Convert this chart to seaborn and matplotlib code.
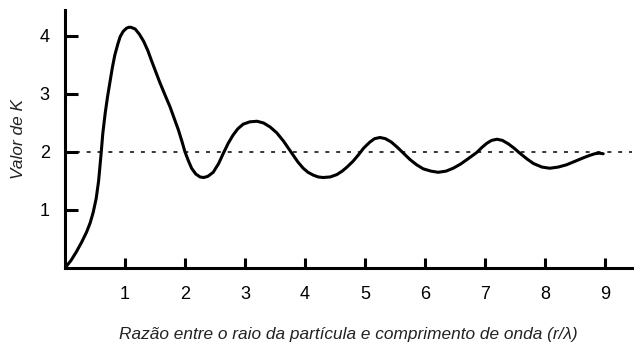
import matplotlib
matplotlib.use("Agg")
import matplotlib.pyplot as plt
import numpy as np
import pandas as pd
import seaborn as sns

# Ratio r/lambda (x) and K value (y)
ratio = [0.0, 0.1, 0.19, 0.28, 0.36, 0.42, 0.47, 0.52, 0.56, 0.6, 0.63, 0.67,
         0.71, 0.75, 0.79, 0.83, 0.88, 0.92, 0.97, 1.02, 1.06, 1.1, 1.17, 1.24,
         1.31, 1.38, 1.44, 1.51, 1.58, 1.66, 1.75, 1.82, 1.89, 1.95, 2.0, 2.06,
         2.11, 2.18, 2.25, 2.31, 2.38, 2.47, 2.56, 2.64, 2.72, 2.8, 2.88, 2.97,
         3.08, 3.2, 3.31, 3.42, 3.53, 3.64, 3.72, 3.8, 3.88, 3.97, 4.05, 4.14,
         4.22, 4.3, 4.42, 4.53, 4.62, 4.7, 4.8, 4.89, 4.98, 5.08, 5.16, 5.25,
         5.34, 5.44, 5.54, 5.64, 5.75, 5.86, 5.97, 6.1, 6.22, 6.35, 6.47, 6.59,
         6.7, 6.78, 6.86, 6.95, 7.03, 7.11, 7.2, 7.29, 7.39, 7.48, 7.58, 7.7,
         7.81, 7.95, 8.08, 8.22, 8.36, 8.5, 8.64, 8.74, 8.83, 8.9, 8.97]
k_value = [0.0, 0.13, 0.28, 0.45, 0.62, 0.78, 0.96, 1.2, 1.5, 1.95, 2.32, 2.67,
           2.96, 3.21, 3.46, 3.67, 3.86, 3.99, 4.08, 4.13, 4.15, 4.15, 4.12, 4.03,
           3.91, 3.75, 3.58, 3.39, 3.2, 3.0, 2.78, 2.58, 2.38, 2.18, 2.0, 1.84,
           1.72, 1.62, 1.57, 1.56, 1.58, 1.65, 1.8, 1.98, 2.15, 2.29, 2.4, 2.48,
           2.52, 2.53, 2.5, 2.43, 2.33, 2.19, 2.07, 1.95, 1.83, 1.72, 1.65, 1.6,
           1.57, 1.56, 1.57, 1.61, 1.67, 1.74, 1.84, 1.95, 2.07, 2.17, 2.23, 2.25,
           2.23, 2.17, 2.08, 1.98, 1.87, 1.78, 1.71, 1.67, 1.65, 1.67, 1.72, 1.79,
           1.87, 1.93, 1.99, 2.08, 2.15, 2.2, 2.22, 2.2, 2.14, 2.07, 1.98, 1.88,
           1.8, 1.74, 1.72, 1.74, 1.78, 1.84, 1.9, 1.94, 1.97, 1.98, 1.97]
reference_k = 2.0
x_ticks = [1, 2, 3, 4, 5, 6, 7, 8, 9]
y_ticks = [1, 2, 3, 4]
x_label = "Razão entre o raio da partícula e comprimento de onda (r/λ)"
y_label = "Valor de K"

df = pd.DataFrame({"ratio": ratio, "k": k_value})

sns.set_theme(style="white")
plt.rcParams["font.family"] = ["Liberation Sans", "DejaVu Sans"]

W, H = 634, 344
fig = plt.figure(figsize=(W / 100, H / 100), dpi=100)
left, right, bottom, top = 65, 632, 268, 10
ax = fig.add_axes([left / W, (H - bottom) / H, (right - left) / W, (bottom - top) / H])

sns.lineplot(data=df, x="ratio", y="k", ax=ax, color="black", linewidth=2.2,
             sort=False, estimator=None)
ax.axhline(reference_k, color="black", linewidth=1.1, linestyle=(0, (2.6, 4.5)))

ax.set_xlim(0, (right - left) / 60)
ax.set_ylim(0, (bottom - top) / 58)
ax.set_xticks(x_ticks)
ax.set_yticks(y_ticks)
ax.set_xticklabels([str(t) for t in x_ticks])
ax.set_yticklabels([str(t) for t in y_ticks])
ax.tick_params(axis="both", direction="in", width=2.2, labelsize=13,
               colors="black", bottom=True, left=True)
ax.tick_params(axis="x", length=7, pad=13)
ax.tick_params(axis="y", length=9, pad=11)

for s in ["top", "right"]:
    ax.spines[s].set_visible(False)
for s in ["left", "bottom"]:
    ax.spines[s].set_linewidth(2.2)
    ax.spines[s].set_color("black")

ax.set_xlabel(x_label, fontsize=12.4, fontstyle="italic", color="#222222", labelpad=17)
ax.set_ylabel(y_label, fontsize=12.4, fontstyle="italic", color="#222222", labelpad=10)

fig.savefig("out.png", dpi=100, facecolor="white")
